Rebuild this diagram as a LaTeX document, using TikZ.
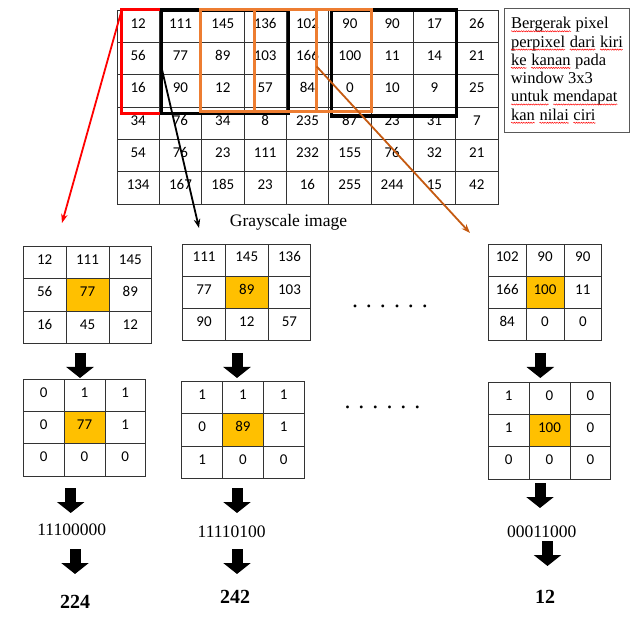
\documentclass[tikz,border=0pt]{standalone}
\usepackage{fontspec}
\setmainfont{Liberation Serif}
\newfontfamily\cellfont{Carlito}
\usetikzlibrary{arrows.meta, decorations.pathmorphing}

\definecolor{hlyellow}{HTML}{FFC000}
\definecolor{winorange}{HTML}{ED7D31}
\definecolor{arrorange}{HTML}{C55A11}
\definecolor{winred}{HTML}{FF0000}

\tikzset{
  cell/.style={draw=black!80, line width=0.8pt, inner sep=0pt, text height=9.7pt, text depth=6pt,
    font=\cellfont\fontsize{15}{18}\selectfont},
  win/.style={draw, line width=3pt, inner sep=0pt, outer sep=0pt, anchor=north west},
  pointer/.style={-{Stealth[length=9pt, width=6.5pt]}, line width=1.8pt},
  blockarrow/.style={-{Triangle[length=11pt, width=27pt]}, line width=11pt},
  bintext/.style={font=\fontsize{17.5}{20}\selectfont, inner sep=0pt},
  result/.style={font=\bfseries\fontsize{20}{22}\selectfont, inner sep=0pt},
  ellip/.style={font=\fontsize{24}{24}\selectfont, inner sep=0pt},
  notebox/.style={draw=black!65, line width=1pt, anchor=north west, inner xsep=0pt,
    minimum width=125pt, minimum height=124pt, align=left, font=\fontsize{16.5}{18.3}\selectfont},
  squignode/.style={draw=none, inner sep=0pt, outer sep=0pt, minimum width=0pt, minimum height=0pt,
    anchor=base}
}

% 3x3 window: name, left, top, cell width, values
\newcommand{\wingrid}[5]{%
  \foreach \v [count=\i from 0] in {#5} {
    \pgfmathtruncatemacro{\gr}{div(\i,3)}
    \pgfmathtruncatemacro{\gc}{mod(\i,3)}
    \ifnum\i=4 \def\cellfill{hlyellow}\else\def\cellfill{none}\fi
    \node[cell, minimum width=#4pt, minimum height=32.2pt, fill=\cellfill]
      (#1-\gr-\gc) at ({#2+(\gc+0.5)*#4}, {#3+(\gr+0.5)*32.2}) {\v};
  }%
}

% spell check underline
\newcommand{\squig}[1]{\tikz[baseline=(sq.base)]{\node[squignode] (sq) {#1};
  \draw[winred, line width=0.5pt, decorate, decoration={snake, amplitude=0.6pt, segment length=2.4pt}]
    ([yshift=-2.5pt]sq.base west) -- ([yshift=-2.5pt]sq.base east);}}

\begin{document}
\begin{tikzpicture}[x=1pt, y=-1pt]
\useasboundingbox (0,0) rectangle (640,617);

% grayscale image
\foreach \row [count=\r] in {{12,111,145,136,102,90,90,17,26},{56,77,89,103,166,100,11,14,21},
    {16,90,12,57,84,0,10,9,25},{34,76,34,8,235,87,23,31,7},{54,76,23,111,232,155,76,32,21},
    {134,167,185,23,16,255,244,15,42}}
  \foreach \v [count=\c] in \row
    \node[cell, minimum width=42.33pt, minimum height=32.33pt] (g-\r-\c)
      at ({117+(\c-0.5)*42.33}, {10+(\r-0.5)*32.33}) {\v};

\node[font=\fontsize{17.5}{20}\selectfont, inner sep=0pt] (title) at (288.5,222) {Grayscale image};

% sliding windows
\node[win, draw=winred, minimum width=78.3pt, minimum height=103.3pt] (winA) at (121.7,10) {};
\node[win, line width=3.5pt, minimum width=126.6pt, minimum height=103.3pt] (winB) at (161.7,10) {};
\node[win, line width=3.5pt, minimum width=125pt, minimum height=106pt] (winD) at (331.7,10) {};
\node[win, draw=winorange, minimum width=116.7pt, minimum height=102.4pt] (winC) at (200,9.3) {};
\node[win, draw=winorange, minimum width=117.4pt, minimum height=102.4pt] (winE) at (254.3,9.3) {};

\node[notebox] (note) at (504,8) {\squig{Bergerak} pixel\\ \squig{perpixel} \squig{dari} \squig{kiri}\\
  \squig{ke} \squig{kanan} pada\\ window 3x3\\ \squig{untuk} \squig{mendapat}\\
  \squig{kan} \squig{nilai} \squig{ciri}};

\coordinate (tipA) at (62,223);
\coordinate (tipB) at (199,228);
\coordinate (tipC) at (470,233);
\draw[pointer, winred] (winA.north west) -- (tipA);
\draw[pointer] ([yshift=-6.6pt]winB.west) -- (tipB);
\draw[pointer, arrorange] ([yshift=-6pt]winC.east) -- (tipC);

% windows taken out
\wingrid{A}{23.3}{246.7}{42.8}{12,111,145,56,77,89,16,45,12}
\wingrid{B}{182.7}{244}{42.7}{111,145,136,77,89,103,90,12,57}
\wingrid{C}{488.3}{244}{37.8}{102,90,90,166,100,11,84,0,0}
\wingrid{D}{23.3}{379.3}{40.8}{0,1,1,0,77,1,0,0,0}
\wingrid{E}{181.7}{381.7}{40.8}{1,1,1,0,89,1,1,0,0}
\wingrid{F}{488.3}{382.3}{40.8}{1,0,0,1,100,0,0,0,0}

\node[ellip] (dotsTop) at (390,306) {. . . . . .};
\node[ellip] (dotsBot) at (382.5,407) {. . . . . .};

\foreach \x/\y [count=\i] in {80/353, 70.7/488, 75/549, 237/353, 237/488, 237/549,
    540.3/353, 540/483, 547.5/541}
  {\coordinate (blk\i) at (\x,\y); \draw[blockarrow] (blk\i) -- ++(0,25);}

\node[bintext] (binA) at (71.7,530) {11100000};
\node[bintext] (binB) at (231.7,531.7) {11110100};
\node[bintext] (binC) at (541.7,531.7) {00011000};
\node[result] (decA) at (75,601.7) {224};
\node[result] (decB) at (235,596.7) {242};
\node[result] (decC) at (545,596.7) {12};
\end{tikzpicture}
\end{document}
